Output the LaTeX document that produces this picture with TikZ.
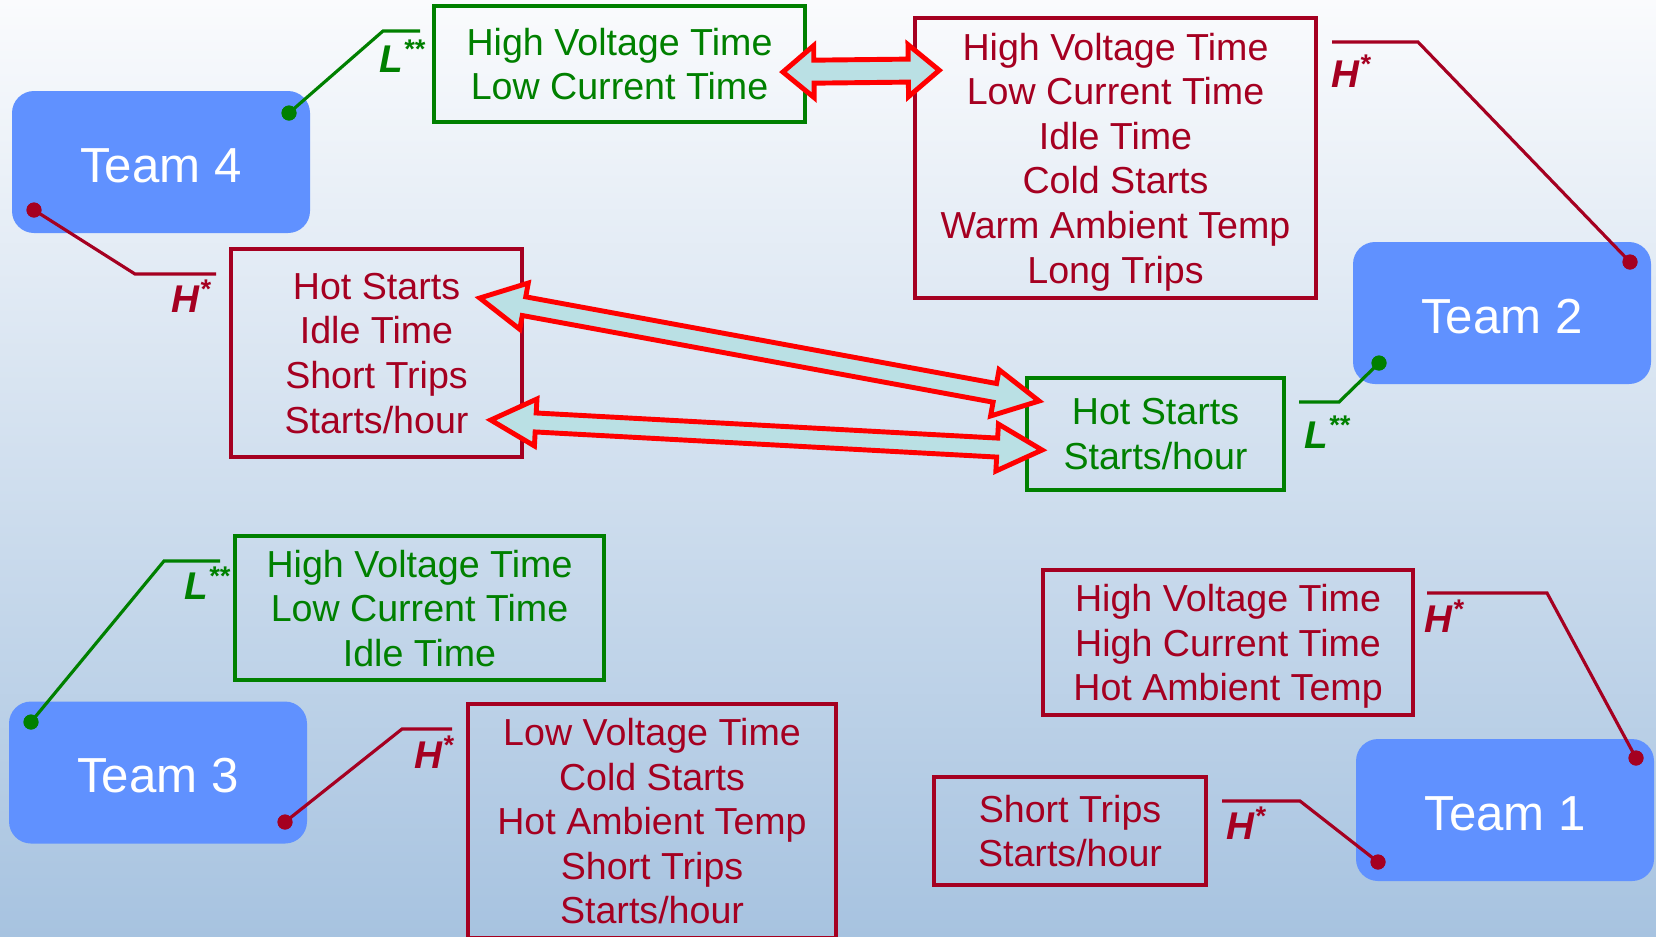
\documentclass[tikz,border=0pt]{standalone}
\usepackage{fontspec}
\setmainfont{Liberation Sans}
\usetikzlibrary{calc}
\definecolor{myred}{RGB}{165,0,33}
\definecolor{mygreen}{RGB}{0,128,0}
\definecolor{teamblue}{RGB}{96,145,255}
\definecolor{arrred}{RGB}{255,0,0}
\definecolor{arrfill}{RGB}{186,224,228}
\definecolor{bgtop}{RGB}{250,251,253}
\definecolor{bgbot}{RGB}{167,195,224}
\tikzset{
  team/.style={rectangle, fill=teamblue, text=white,
    minimum width=29.8mm, minimum height=14.2mm, rounded corners=2.2mm,
    text height=11.6pt, text depth=0pt,
    font=\fontsize{14pt}{16pt}\selectfont},
  greenbox/.style={rectangle, draw=mygreen, text=mygreen, line width=1.1pt,
    align=center, text depth=0pt, font=\fontsize{10.7pt}{12.7pt}\selectfont},
  redbox/.style={rectangle, draw=myred, text=myred, line width=1.0pt,
    align=center, text depth=0pt, font=\fontsize{10.7pt}{12.7pt}\selectfont},
  gdot/.style={circle, fill=mygreen, minimum size=1.5mm, inner sep=0pt},
  rdot/.style={circle, fill=myred, minimum size=1.5mm, inner sep=0pt},
  gline/.style={draw=mygreen, line width=0.9pt},
  rline/.style={draw=myred, line width=0.9pt},
  glabel/.style={anchor=base west, inner sep=0pt, text=mygreen,
    font=\fontsize{11pt}{13pt}\selectfont\bfseries\itshape},
  rlabel/.style={anchor=base west, inner sep=0pt, text=myred,
    font=\fontsize{11pt}{13pt}\selectfont\bfseries\itshape},
  fatarr/.style={draw=arrred, fill=arrfill, line width=1.4pt, line join=miter}
}
% fat double arrow: from, to, head length, head half width, shaft half width
\newcommand{\fatarrow}[5]{%
  \draw[fatarr] (#1)
    -- ($(#1)!#3!(#2)!#4!90:(#2)$) -- ($(#1)!#3!(#2)!#5!90:(#2)$)
    -- ($(#2)!#3!(#1)!#5!-90:(#1)$) -- ($(#2)!#3!(#1)!#4!-90:(#1)$)
    -- (#2)
    -- ($(#2)!#3!(#1)!#4!90:(#1)$) -- ($(#2)!#3!(#1)!#5!90:(#1)$)
    -- ($(#1)!#3!(#2)!#5!-90:(#2)$) -- ($(#1)!#3!(#2)!#4!-90:(#2)$)
    -- cycle;}

\begin{document}
\begin{tikzpicture}[x=0.1mm, y=-0.1mm]
  \useasboundingbox (0,0) rectangle (1656,936);
  \shade[top color=bgtop, bottom color=bgbot] (0,0) rectangle (1656,936);
  \clip (0,0) rectangle (1656,936);

  % Teams
  \node[team] (team4) at (161,162) {Team 4};
  \node[team] (team2) at (1502,313) {Team 2};
  \node[team] (team3) at (158,772.5) {Team 3};
  \node[team] (team1) at (1505,810) {Team 1};

  % Variable boxes
  \node[greenbox, minimum width=37.1mm, minimum height=11.6mm] (t4low) at (619.5,64)
    {High Voltage Time\\Low Current Time};
  \node[redbox, minimum width=29.1mm, minimum height=20.8mm] (t4high) at (376.5,353)
    {Hot Starts\\Idle Time\\Short Trips\\Starts/hour};
  \node[redbox, minimum width=40.1mm, minimum height=28mm] (t2high) at (1115.5,158)
    {High Voltage Time\\Low Current Time\\Idle Time\\Cold Starts\\Warm Ambient Temp\\Long Trips};
  \node[greenbox, minimum width=25.7mm, minimum height=11.2mm] (t2low) at (1155.5,434)
    {Hot Starts\\Starts/hour};
  \node[greenbox, minimum width=36.9mm, minimum height=14.4mm] (t3low) at (419.5,608)
    {High Voltage Time\\Low Current Time\\Idle Time};
  \node[redbox, minimum width=36.8mm, minimum height=23.4mm] (t3high) at (652,821)
    {Low Voltage Time\\Cold Starts\\Hot Ambient Temp\\Short Trips\\Starts/hour};
  \node[redbox, minimum width=37mm, minimum height=14.5mm] (t1highA) at (1228,642.5)
    {High Voltage Time\\High Current Time\\Hot Ambient Temp};
  \node[redbox, minimum width=27.2mm, minimum height=10.8mm] (t1highB) at (1070,831)
    {Short Trips\\Starts/hour};

  % Callout dots
  \node[gdot] (t4ldot) at ($(team4)+(128,-49)$) {};
  \node[rdot] (t4hdot) at ($(team4)+(-127,48)$) {};
  \node[rdot] (t2hdot) at ($(team2)+(128,-51)$) {};
  \node[gdot] (t2ldot) at ($(team2)+(-123,50)$) {};
  \node[gdot] (t3ldot) at ($(team3)+(-127,-50.5)$) {};
  \node[rdot] (t3hdot) at ($(team3)+(127,49.5)$) {};
  \node[rdot] (t1hdotA) at ($(team1)+(131,-52)$) {};
  \node[rdot] (t1hdotB) at ($(team1)+(-127,52)$) {};

  % Callout bends and ends
  \coordinate (t4lbend) at (383,31);   \coordinate (t4lend) at (420,31);
  \coordinate (t4hbend) at (135,274);  \coordinate (t4hend) at (216,274);
  \coordinate (t2hbend) at (1418,42);  \coordinate (t2hend) at (1332,42);
  \coordinate (t2lbend) at (1339,402); \coordinate (t2lend) at (1299,402);
  \coordinate (t3lbend) at (164,561);  \coordinate (t3lend) at (220,561);
  \coordinate (t3hbend) at (402,729);  \coordinate (t3hend) at (452,729);
  \coordinate (t1hbendA) at (1547,593); \coordinate (t1hendA) at (1427,593);
  \coordinate (t1hbendB) at (1300,801); \coordinate (t1hendB) at (1222,801);

  \draw[gline] (t4ldot.center) -- (t4lbend) -- (t4lend);
  \draw[rline] (t4hdot.center) -- (t4hbend) -- (t4hend);
  \draw[rline] (t2hdot.center) -- (t2hbend) -- (t2hend);
  \draw[gline] (t2ldot.center) -- (t2lbend) -- (t2lend);
  \draw[gline] (t3ldot.center) -- (t3lbend) -- (t3lend);
  \draw[rline] (t3hdot.center) -- (t3hbend) -- (t3hend);
  \draw[rline] (t1hdotA.center) -- (t1hbendA) -- (t1hendA);
  \draw[rline] (t1hdotB.center) -- (t1hbendB) -- (t1hendB);

  % redraw dots on top of lines
  \foreach \d/\c in {t4ldot/mygreen, t4hdot/myred, t2hdot/myred, t2ldot/mygreen,
                     t3ldot/mygreen, t3hdot/myred, t1hdotA/myred, t1hdotB/myred}
    \fill[\c] (\d) circle (0.75mm);

  % Labels
  \node[glabel] (t4llab) at (379,72) {L\textsuperscript{**}};
  \node[rlabel] (t4hlab) at (171,312) {H\textsuperscript{*}};
  \node[rlabel] (t2hlab) at (1331,87) {H\textsuperscript{*}};
  \node[glabel] (t2llab) at (1304,448) {L\textsuperscript{**}};
  \node[glabel] (t3llab) at (184,599) {L\textsuperscript{**}};
  \node[rlabel] (t3hlab) at (414,768) {H\textsuperscript{*}};
  \node[rlabel] (t1hlabA) at (1424,632) {H\textsuperscript{*}};
  \node[rlabel] (t1hlabB) at (1226,839) {H\textsuperscript{*}};

  % Arrow tips
  \coordinate (a1l) at ($(t4low.east)+(-24,8)$);
  \coordinate (a1r) at ($(t2high.north west)+(26,54)$);
  \coordinate (a2l) at ($(t4high.east)+(-44,-55)$);
  \coordinate (a2r) at ($(t2low.west)+(14,-33)$);
  \coordinate (a3l) at ($(t4high.east)+(-33,67)$);
  \coordinate (a3r) at ($(t2low.west)+(17,16)$);

  \fatarrow{a1l}{a1r}{3.1mm}{2.6mm}{1.15mm}
  \fatarrow{a2l}{a2r}{4.5mm}{2.35mm}{0.95mm}
  \fatarrow{a3l}{a3r}{4.5mm}{2.35mm}{0.95mm}
\end{tikzpicture}
\end{document}
